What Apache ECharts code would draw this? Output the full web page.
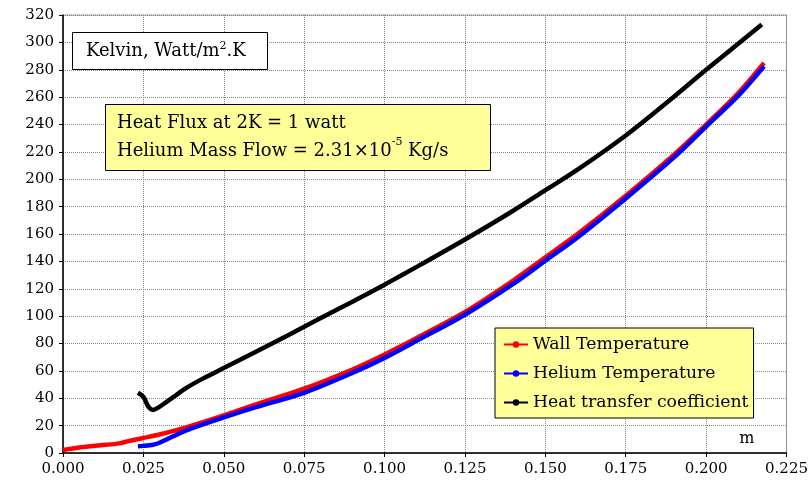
<!DOCTYPE html>
<html>
<head>
<meta charset="utf-8">
<script src="https://cdn.jsdelivr.net/npm/echarts@6/dist/echarts.min.js"></script>
<style>html,body{margin:0;padding:0;background:#fff}#c{width:811px;height:487px}</style>
</head>
<body>
<div id="c"></div>
<script>
var xTicks = [0, 0.025, 0.05, 0.075, 0.1, 0.125, 0.15, 0.175, 0.2, 0.225];
var yTicks = [0, 20, 40, 60, 80, 100, 120, 140, 160, 180, 200, 220, 240, 260, 280, 300, 320];

var wallX = [0.000, 0.005, 0.010, 0.015, 0.018, 0.020, 0.025, 0.030, 0.035, 0.040, 0.050, 0.060, 0.075, 0.090, 0.100, 0.110, 0.125, 0.140, 0.150, 0.160, 0.175, 0.190, 0.200, 0.210, 0.218];
var wallY = [2.2, 4.0, 5.3, 6.3, 7.2, 8.5, 11.0, 13.5, 16.5, 20.0, 27.5, 35.5, 47.0, 61.0, 72.0, 84.0, 103.0, 126.0, 143.0, 160.0, 188.0, 218.0, 240.0, 263.0, 285.0];

var heliumX = [0.0233, 0.025, 0.028, 0.030, 0.035, 0.040, 0.050, 0.060, 0.075, 0.090, 0.100, 0.110, 0.125, 0.140, 0.150, 0.160, 0.175, 0.190, 0.200, 0.210, 0.218];
var heliumY = [5.0, 5.2, 6.0, 7.5, 13.0, 18.0, 26.0, 33.5, 44.0, 58.5, 69.5, 82.0, 101.0, 123.5, 140.5, 157.5, 186.0, 216.0, 238.5, 261.0, 282.5];

var htcX = [0.0233, 0.025, 0.0265, 0.028, 0.0295, 0.032, 0.035, 0.038, 0.042, 0.047, 0.052, 0.060, 0.070, 0.080, 0.090, 0.100, 0.110, 0.125, 0.140, 0.150, 0.160, 0.175, 0.1875, 0.200, 0.2173];
var htcY = [44, 41, 34, 31.5, 33, 37, 42, 47, 52.5, 58.5, 64.5, 74, 86, 98.5, 110.5, 123, 136, 156, 177, 192, 207, 232, 255.5, 280, 313];

function zip(a, b) { return a.map(function (v, i) { return [v, b[i]]; }); }

var FONT = '"DejaVu Serif", "Liberation Serif", serif';
var chart = echarts.init(document.getElementById('c'));
chart.setOption({
  animation: false,
  backgroundColor: '#fff',
  textStyle: { fontFamily: FONT },
  grid: { left: 63, right: 23, top: 15, bottom: 34, show: true, borderColor: '#999', borderWidth: 1 },
  title: [
    {
      text: 'Kelvin, Watt/m{sup|2}.K',
      left: 72, top: 32,
      padding: [9, 22, 9, 14],
      backgroundColor: '#fff', borderColor: '#000', borderWidth: 1,
      textStyle: {
        fontFamily: FONT, fontWeight: 'normal', fontSize: 18, color: '#000', lineHeight: 20,
        rich: { sup: { fontFamily: FONT, fontSize: 11, verticalAlign: 'top', lineHeight: 10, color: '#000' } }
      }
    },
    {
      text: 'Heat Flux at 2K = 1 watt\nHelium Mass Flow = 2.31×10{sup|-5} Kg/s',
      left: 105, top: 104,
      padding: [5, 42, 6, 12],
      backgroundColor: '#FFFF99', borderColor: '#000', borderWidth: 1,
      textStyle: {
        fontFamily: FONT, fontWeight: 'normal', fontSize: 18, color: '#000', lineHeight: 28,
        rich: { sup: { fontFamily: FONT, fontSize: 11, verticalAlign: 'top', lineHeight: 24, color: '#000' } }
      }
    }
  ],
  legend: {
    orient: 'vertical',
    left: 495, top: 328,
    backgroundColor: '#FFFF99', borderColor: '#000', borderWidth: 1,
    padding: [8, 5, 7, 8],
    itemGap: 12,
    itemWidth: 24, itemHeight: 8,
    textStyle: { fontFamily: FONT, fontSize: 17.3, color: '#000' },
    data: ['Wall Temperature', 'Helium Temperature', 'Heat transfer coefficient']
  },
  xAxis: {
    type: 'value', min: 0, max: 0.225, interval: 0.025,
    name: 'm', nameLocation: 'end', nameGap: 0,
    nameTextStyle: { fontFamily: FONT, fontSize: 16, color: '#000', align: 'right', verticalAlign: 'bottom', padding: [0, 32, 6, 0] },
    axisLine: { show: true, lineStyle: { color: '#000', width: 1.5 } },
    axisTick: { show: true, length: 4, lineStyle: { color: '#000' } },
    axisLabel: { fontFamily: FONT, fontSize: 15, color: '#000', margin: 9, formatter: function (v) { return v.toFixed(3); } },
    splitLine: { show: true, lineStyle: { color: '#888', type: 'dotted', width: 1 } }
  },
  yAxis: {
    type: 'value', min: 0, max: 320, interval: 20,
    axisLine: { show: true, lineStyle: { color: '#000', width: 1.5 } },
    axisTick: { show: true, length: 4, lineStyle: { color: '#000' } },
    axisLabel: { fontFamily: FONT, fontSize: 15, color: '#000', margin: 9 },
    splitLine: { show: true, lineStyle: { color: '#888', type: 'dotted', width: 1 } }
  },
  series: [
    {
      name: 'Wall Temperature', type: 'line', data: zip(wallX, wallY),
      smooth: 0.3, showSymbol: false, symbol: 'circle', symbolSize: 5,
      itemStyle: { color: '#ff0000' }, lineStyle: { color: '#ff0000', width: 4.5 }
    },
    {
      name: 'Helium Temperature', type: 'line', data: zip(heliumX, heliumY),
      smooth: 0.3, showSymbol: false, symbol: 'circle', symbolSize: 5,
      itemStyle: { color: '#0000ff' }, lineStyle: { color: '#0000ff', width: 4.5 }
    },
    {
      name: 'Heat transfer coefficient', type: 'line', data: zip(htcX, htcY),
      smooth: 0.3, showSymbol: false, symbol: 'circle', symbolSize: 5,
      itemStyle: { color: '#000000' }, lineStyle: { color: '#000000', width: 4.5 }
    }
  ]
});
</script>
</body>
</html>
